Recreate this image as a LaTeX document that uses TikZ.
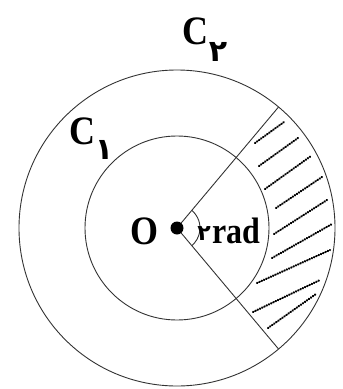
\documentclass[tikz,border=0pt]{standalone}
\usepackage{fontspec}
\usepackage{graphicx}
\setmainfont{Liberation Serif}
\newfontfamily\fafont[Script=Arabic]{DejaVu Sans}
\usetikzlibrary{calc}
\begin{document}
\begin{tikzpicture}[x=1pt,y=-1pt,
  circ/.style={draw=black!80, line width=0.9pt},
  hatch/.style={line width=2.2pt, line cap=round, dash pattern=on 0.5pt off 2pt, black},
  lbl/.style={font=\fontsize{36}{36}\selectfont\bfseries, inner sep=0pt},
  dig/.style={font=\fontsize{30}{30}\selectfont\fafont\bfseries, inner sep=0pt}]
\useasboundingbox (0,0) rectangle (343,389);
\coordinate (O) at (177,228);
\draw[circ] (O) circle[radius=158];
\draw[circ] (O) circle[radius=92];
\coordinate (A) at ($(O)+(-50:158)$);
\coordinate (B) at ($(O)+(50:158)$);
\draw[circ] (O) -- (A);
\draw[circ] (O) -- (B);
\draw[circ] ($(O)+(-50:23)$) arc[start angle=-50, end angle=50, radius=23];
\fill (O) circle[radius=6.5];
% hatching
\draw[hatch] (255,143) -- (284,122);
\draw[hatch] (259,166) -- (298,138);
\draw[hatch] (265,189) -- (311,156);
\draw[hatch] (276,208) -- (322,177);
\draw[hatch] (274,234) -- (327,200);
\draw[hatch] (272,258) -- (332,224);
\draw[hatch] (257,283) -- (330,250);
\draw[hatch] (253,312) -- (320,280);
\draw[hatch] (268,328) -- (316,294);
% labels
\node[lbl] (c2) at (195,31) {\scalebox{1}[1.12]{C}};
\node[dig] (c2s) at (218,52) {۲};
\node[lbl] (c1) at (82,131) {\scalebox{1}[1.12]{C}};
\node[dig] (c1s) at (104,150) {۱};
\node[lbl] (o) at (145,231) {\scalebox{1}[1.12]{O}};
\node[dig, font=\fontsize{22}{22}\selectfont\fafont\bfseries] (two) at (204,234) {۲};
\node[lbl, font=\fontsize{32}{32}\selectfont\bfseries, anchor=base west] (rad) at (212,243) {\scalebox{1}[1.15]{rad}};
\end{tikzpicture}
\end{document}
